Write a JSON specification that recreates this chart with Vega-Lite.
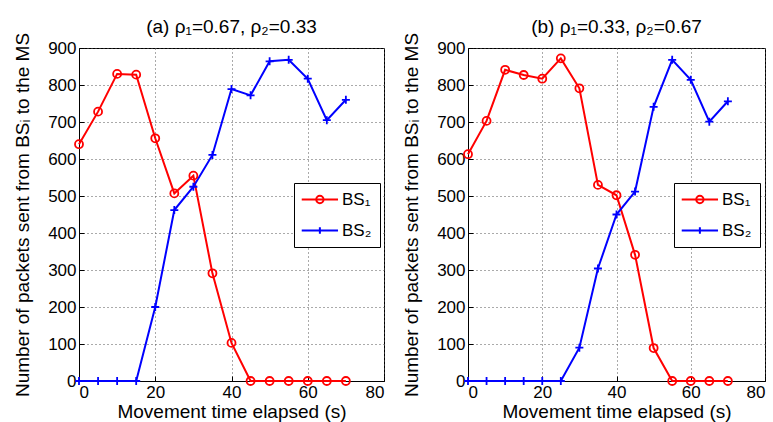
{
  "$schema": "https://vega.github.io/schema/vega-lite/v6.json",
  "background": "white",
  "padding": {"left": 13, "top": 17, "right": 4, "bottom": 0},
  "spacing": 17,
  "datasets": {
    "a": [
      {"t": 0, "series": "BS₁", "n": 640}, {"t": 5, "series": "BS₁", "n": 728}, {"t": 10, "series": "BS₁", "n": 830},
      {"t": 15, "series": "BS₁", "n": 828}, {"t": 20, "series": "BS₁", "n": 656}, {"t": 25, "series": "BS₁", "n": 507},
      {"t": 30, "series": "BS₁", "n": 555}, {"t": 35, "series": "BS₁", "n": 291}, {"t": 40, "series": "BS₁", "n": 103},
      {"t": 45, "series": "BS₁", "n": 0}, {"t": 50, "series": "BS₁", "n": 0}, {"t": 55, "series": "BS₁", "n": 0},
      {"t": 60, "series": "BS₁", "n": 0}, {"t": 65, "series": "BS₁", "n": 0}, {"t": 70, "series": "BS₁", "n": 0},
      {"t": 0, "series": "BS₂", "n": 0}, {"t": 5, "series": "BS₂", "n": 0}, {"t": 10, "series": "BS₂", "n": 0},
      {"t": 15, "series": "BS₂", "n": 0}, {"t": 20, "series": "BS₂", "n": 200}, {"t": 25, "series": "BS₂", "n": 462},
      {"t": 30, "series": "BS₂", "n": 525}, {"t": 35, "series": "BS₂", "n": 611}, {"t": 40, "series": "BS₂", "n": 789},
      {"t": 45, "series": "BS₂", "n": 772}, {"t": 50, "series": "BS₂", "n": 864}, {"t": 55, "series": "BS₂", "n": 868},
      {"t": 60, "series": "BS₂", "n": 817}, {"t": 65, "series": "BS₂", "n": 705}, {"t": 70, "series": "BS₂", "n": 760}
    ],
    "b": [
      {"t": 0, "series": "BS₁", "n": 613}, {"t": 5, "series": "BS₁", "n": 703}, {"t": 10, "series": "BS₁", "n": 841},
      {"t": 15, "series": "BS₁", "n": 827}, {"t": 20, "series": "BS₁", "n": 817}, {"t": 25, "series": "BS₁", "n": 872},
      {"t": 30, "series": "BS₁", "n": 791}, {"t": 35, "series": "BS₁", "n": 530}, {"t": 40, "series": "BS₁", "n": 502},
      {"t": 45, "series": "BS₁", "n": 341}, {"t": 50, "series": "BS₁", "n": 89}, {"t": 55, "series": "BS₁", "n": 0},
      {"t": 60, "series": "BS₁", "n": 0}, {"t": 65, "series": "BS₁", "n": 0}, {"t": 70, "series": "BS₁", "n": 0},
      {"t": 0, "series": "BS₂", "n": 0}, {"t": 5, "series": "BS₂", "n": 0}, {"t": 10, "series": "BS₂", "n": 0},
      {"t": 15, "series": "BS₂", "n": 0}, {"t": 20, "series": "BS₂", "n": 0}, {"t": 25, "series": "BS₂", "n": 0},
      {"t": 30, "series": "BS₂", "n": 90}, {"t": 35, "series": "BS₂", "n": 304}, {"t": 40, "series": "BS₂", "n": 450},
      {"t": 45, "series": "BS₂", "n": 512}, {"t": 50, "series": "BS₂", "n": 741}, {"t": 55, "series": "BS₂", "n": 868},
      {"t": 60, "series": "BS₂", "n": 814}, {"t": 65, "series": "BS₂", "n": 701}, {"t": 70, "series": "BS₂", "n": 756}
    ]
  },
  "config": {
    "font": "Liberation Sans",
    "view": {"stroke": "black", "strokeWidth": 1},
    "axis": {
      "grid": true,
      "gridDash": [1, 3],
      "gridColor": "#555555",
      "gridWidth": 1,
      "domainColor": "black",
      "ticks": true,
      "tickColor": "black",
      "tickSize": -5,
      "labelColor": "black",
      "titleColor": "black",
      "labelFont": "Liberation Sans",
      "titleFont": "Liberation Sans",
      "labelFontSize": 17,
      "titleFontSize": 19,
      "titleFontWeight": "normal",
      "labelPadding": 8
    },
    "title": {"font": "Liberation Sans", "fontSize": 19, "fontWeight": "normal", "color": "black", "anchor": "middle", "offset": -5},
    "legend": {
      "strokeColor": "black",
      "fillColor": "white",
      "padding": 8,
      "cornerRadius": 0,
      "labelFont": "Liberation Sans",
      "labelFontSize": 17,
      "labelColor": "black",
      "symbolStrokeWidth": 2,
      "rowPadding": 13
    }
  },
  "hconcat": [
    {
      "width": 305,
      "height": 333,
      "title": "(a) ρ₁=0.67, ρ₂=0.33",
      "data": {"name": "a"},
      "encoding": {
        "x": {"field": "t", "type": "quantitative", "scale": {"domain": [0, 80], "nice": false},
              "axis": {"values": [0, 20, 40, 60, 80], "title": "Movement time elapsed (s)", "titlePadding": 2}},
        "y": {"field": "n", "type": "quantitative", "scale": {"domain": [0, 900], "nice": false},
              "axis": {"values": [0, 100, 200, 300, 400, 500, 600, 700, 800, 900], "title": "Number of packets sent from BSᵢ to the MS", "titlePadding": 15}}
      },
      "layer": [
        {"mark": {"type": "line", "strokeWidth": 2},
         "encoding": {"color": {"field": "series", "type": "nominal", "scale": {"domain": ["BS₁", "BS₂"], "range": ["#ff0000", "#0000ff"]}, "legend": null}}},
        {"mark": {"type": "point", "filled": false, "size": 64, "strokeWidth": 1.8, "opacity": 1},
         "encoding": {
           "color": {"field": "series", "type": "nominal", "scale": {"domain": ["BS₁", "BS₂"], "range": ["#ff0000", "#0000ff"]}, "legend": null},
           "shape": {"field": "series", "type": "nominal", "scale": {"domain": ["BS₁", "BS₂"], "range": ["circle", "M-1,0H1M0,-1V1"]}, "legend": null}}},
        {"transform": [{"filter": "false"}],
         "mark": {"type": "point", "filled": false, "size": 225, "strokeWidth": 2, "opacity": 1},
         "encoding": {
           "color": {"field": "series", "type": "nominal", "scale": {"domain": ["BS₁", "BS₂"], "range": ["#ff0000", "#0000ff"]},
                     "legend": {"title": null, "orient": "none", "legendX": 215, "legendY": 135, "symbolSize": 225, "labelOffset": 23}},
           "shape": {"field": "series", "type": "nominal",
                     "scale": {"domain": ["BS₁", "BS₂"], "range": ["M-1.17,0H3.67M1.74,0A0.49,0.49,0,1,1,0.76,0A0.49,0.49,0,1,1,1.74,0", "M-1.17,0H3.67M1.25,-0.44V0.44"]},
                     "legend": {"title": null, "orient": "none", "legendX": 215, "legendY": 135, "symbolSize": 225, "labelOffset": 23}}}}
      ],
      "resolve": {"scale": {"shape": "independent", "color": "independent"}}
    },
    {
      "width": 297,
      "height": 333,
      "title": "(b) ρ₁=0.33, ρ₂=0.67",
      "data": {"name": "b"},
      "encoding": {
        "x": {"field": "t", "type": "quantitative", "scale": {"domain": [0, 80], "nice": false},
              "axis": {"values": [0, 20, 40, 60, 80], "title": "Movement time elapsed (s)", "titlePadding": 2}},
        "y": {"field": "n", "type": "quantitative", "scale": {"domain": [0, 900], "nice": false},
              "axis": {"values": [0, 100, 200, 300, 400, 500, 600, 700, 800, 900], "title": "Number of packets sent from BSᵢ to the MS", "titlePadding": 15}}
      },
      "layer": [
        {"mark": {"type": "line", "strokeWidth": 2},
         "encoding": {"color": {"field": "series", "type": "nominal", "scale": {"domain": ["BS₁", "BS₂"], "range": ["#ff0000", "#0000ff"]}, "legend": null}}},
        {"mark": {"type": "point", "filled": false, "size": 64, "strokeWidth": 1.8, "opacity": 1},
         "encoding": {
           "color": {"field": "series", "type": "nominal", "scale": {"domain": ["BS₁", "BS₂"], "range": ["#ff0000", "#0000ff"]}, "legend": null},
           "shape": {"field": "series", "type": "nominal", "scale": {"domain": ["BS₁", "BS₂"], "range": ["circle", "M-1,0H1M0,-1V1"]}, "legend": null}}},
        {"transform": [{"filter": "false"}],
         "mark": {"type": "point", "filled": false, "size": 225, "strokeWidth": 2, "opacity": 1},
         "encoding": {
           "color": {"field": "series", "type": "nominal", "scale": {"domain": ["BS₁", "BS₂"], "range": ["#ff0000", "#0000ff"]},
                     "legend": {"title": null, "orient": "none", "legendX": 206, "legendY": 135, "symbolSize": 225, "labelOffset": 23}},
           "shape": {"field": "series", "type": "nominal",
                     "scale": {"domain": ["BS₁", "BS₂"], "range": ["M-1.17,0H3.67M1.74,0A0.49,0.49,0,1,1,0.76,0A0.49,0.49,0,1,1,1.74,0", "M-1.17,0H3.67M1.25,-0.44V0.44"]},
                     "legend": {"title": null, "orient": "none", "legendX": 206, "legendY": 135, "symbolSize": 225, "labelOffset": 23}}}}
      ],
      "resolve": {"scale": {"shape": "independent", "color": "independent"}}
    }
  ],
  "resolve": {"scale": {"color": "independent", "shape": "independent"}}
}
